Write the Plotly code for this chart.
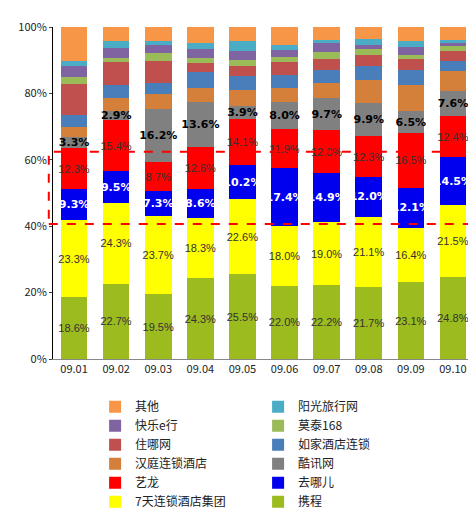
import plotly.graph_objects as go

dates = ["09.01", "09.02", "09.03", "09.04", "09.05", "09.06", "09.07", "09.08", "09.09", "09.10"]

# bottom to top
xiecheng = [18.6, 22.7, 19.5, 24.3, 25.5, 22.0, 22.2, 21.7, 23.1, 24.8]
qitian = [23.3, 24.3, 23.7, 18.3, 22.6, 18.0, 19.0, 21.1, 16.4, 21.5]
qunar = [9.3, 9.5, 7.3, 8.6, 10.2, 17.4, 14.9, 12.0, 12.1, 14.5]
elong = [12.3, 15.4, 8.7, 12.6, 14.1, 11.9, 12.8, 12.3, 16.5, 12.4]
kuxun = [3.3, 2.9, 16.2, 13.6, 3.9, 8.0, 9.7, 9.9, 6.5, 7.6]
hanting = [3.1, 3.7, 4.4, 4.3, 4.7, 4.3, 4.5, 7.1, 7.9, 5.8]
rujia = [3.6, 4.0, 3.4, 4.6, 4.1, 3.9, 3.9, 4.1, 4.4, 3.3]
zhuna = [9.3, 6.9, 6.5, 2.8, 3.2, 3.9, 3.3, 3.5, 3.6, 2.8]
motai = [2.2, 1.3, 2.6, 1.7, 1.8, 1.6, 2.3, 1.8, 1.0, 1.6]
kuaile = [3.4, 3.1, 2.3, 2.6, 2.6, 2.1, 2.6, 1.0, 2.6, 0.9]
yangguang = [1.5, 2.1, 1.3, 1.9, 3.2, 1.4, 0.9, 1.9, 1.6, 0.9]
other = [10.1, 4.1, 4.1, 4.7, 4.1, 5.5, 3.9, 3.7, 4.3, 3.9]

y_ticks = [0, 20, 40, 60, 80, 100]
y_labels = ["0%", "20%", "40%", "60%", "80%", "100%"]

series = [
    ("携程", xiecheng, "#9BBB1F", "#333333", True),
    ("7天连锁酒店集团", qitian, "#FFFF00", "#333333", True),
    ("去哪儿", qunar, "#0000EE", "white", True),
    ("艺龙", elong, "#FF0000", "#333333", True),
    ("酷讯网", kuxun, "#808080", "black", True),
    ("汉庭连锁酒店", hanting, "#D4803A", None, False),
    ("如家酒店连锁", rujia, "#4A7EBB", None, False),
    ("住哪网", zhuna, "#C0504D", None, False),
    ("莫泰168", motai, "#9BBB59", None, False),
    ("快乐e行", kuaile, "#8064A2", None, False),
    ("阳光旅行网", yangguang, "#4BACC6", None, False),
    ("其他", other, "#F79646", None, False),
]

fig = go.Figure()
for name, vals, color, tcolor, show in series:
    bold = tcolor in ("white", "black")
    fig.add_trace(go.Bar(
        x=dates, y=vals, name=name, marker=dict(color=color, line=dict(width=0)),
        text=[f"{v:.1f}%" for v in vals] if show else None,
        textposition="inside" if show else "none",
        textangle=0,
        insidetextanchor="middle",
        constraintext="none",
        textfont=dict(color=tcolor or "black", size=11,
                      family="DejaVu Sans" if bold else "Liberation Sans",
                      weight="bold" if bold else "normal"),
        hoverinfo="skip",
    ))

fig.add_shape(type="rect", xref="paper", yref="y", x0=-0.01, x1=0.99, y0=40.7, y1=62.4,
              line=dict(color="#FF0000", width=2, dash="dash"))

fig.update_layout(
    barmode="stack", bargap=0.37,
    width=476, height=518,
    margin=dict(l=35, r=10, t=14, b=118),
    paper_bgcolor="white", plot_bgcolor="white",
    font=dict(family="Noto Sans CJK SC", size=11, color="#222222"),
    showlegend=True,
    legend=dict(orientation="h", x=0.1, y=-0.1, xanchor="left", yanchor="top",
                traceorder="reversed", entrywidth=118, entrywidthmode="pixels",
                font=dict(size=12), itemwidth=30, tracegroupgap=0),
)
fig.update_xaxes(showline=True, linecolor="#888888", ticks="", tickfont=dict(size=11))
fig.update_yaxes(range=[0, 100], tickvals=y_ticks, ticktext=y_labels,
                 showgrid=False, showline=True, linecolor="black", ticks="outside", ticklen=3,
                 tickfont=dict(size=11))

fig.write_html("out.html")
